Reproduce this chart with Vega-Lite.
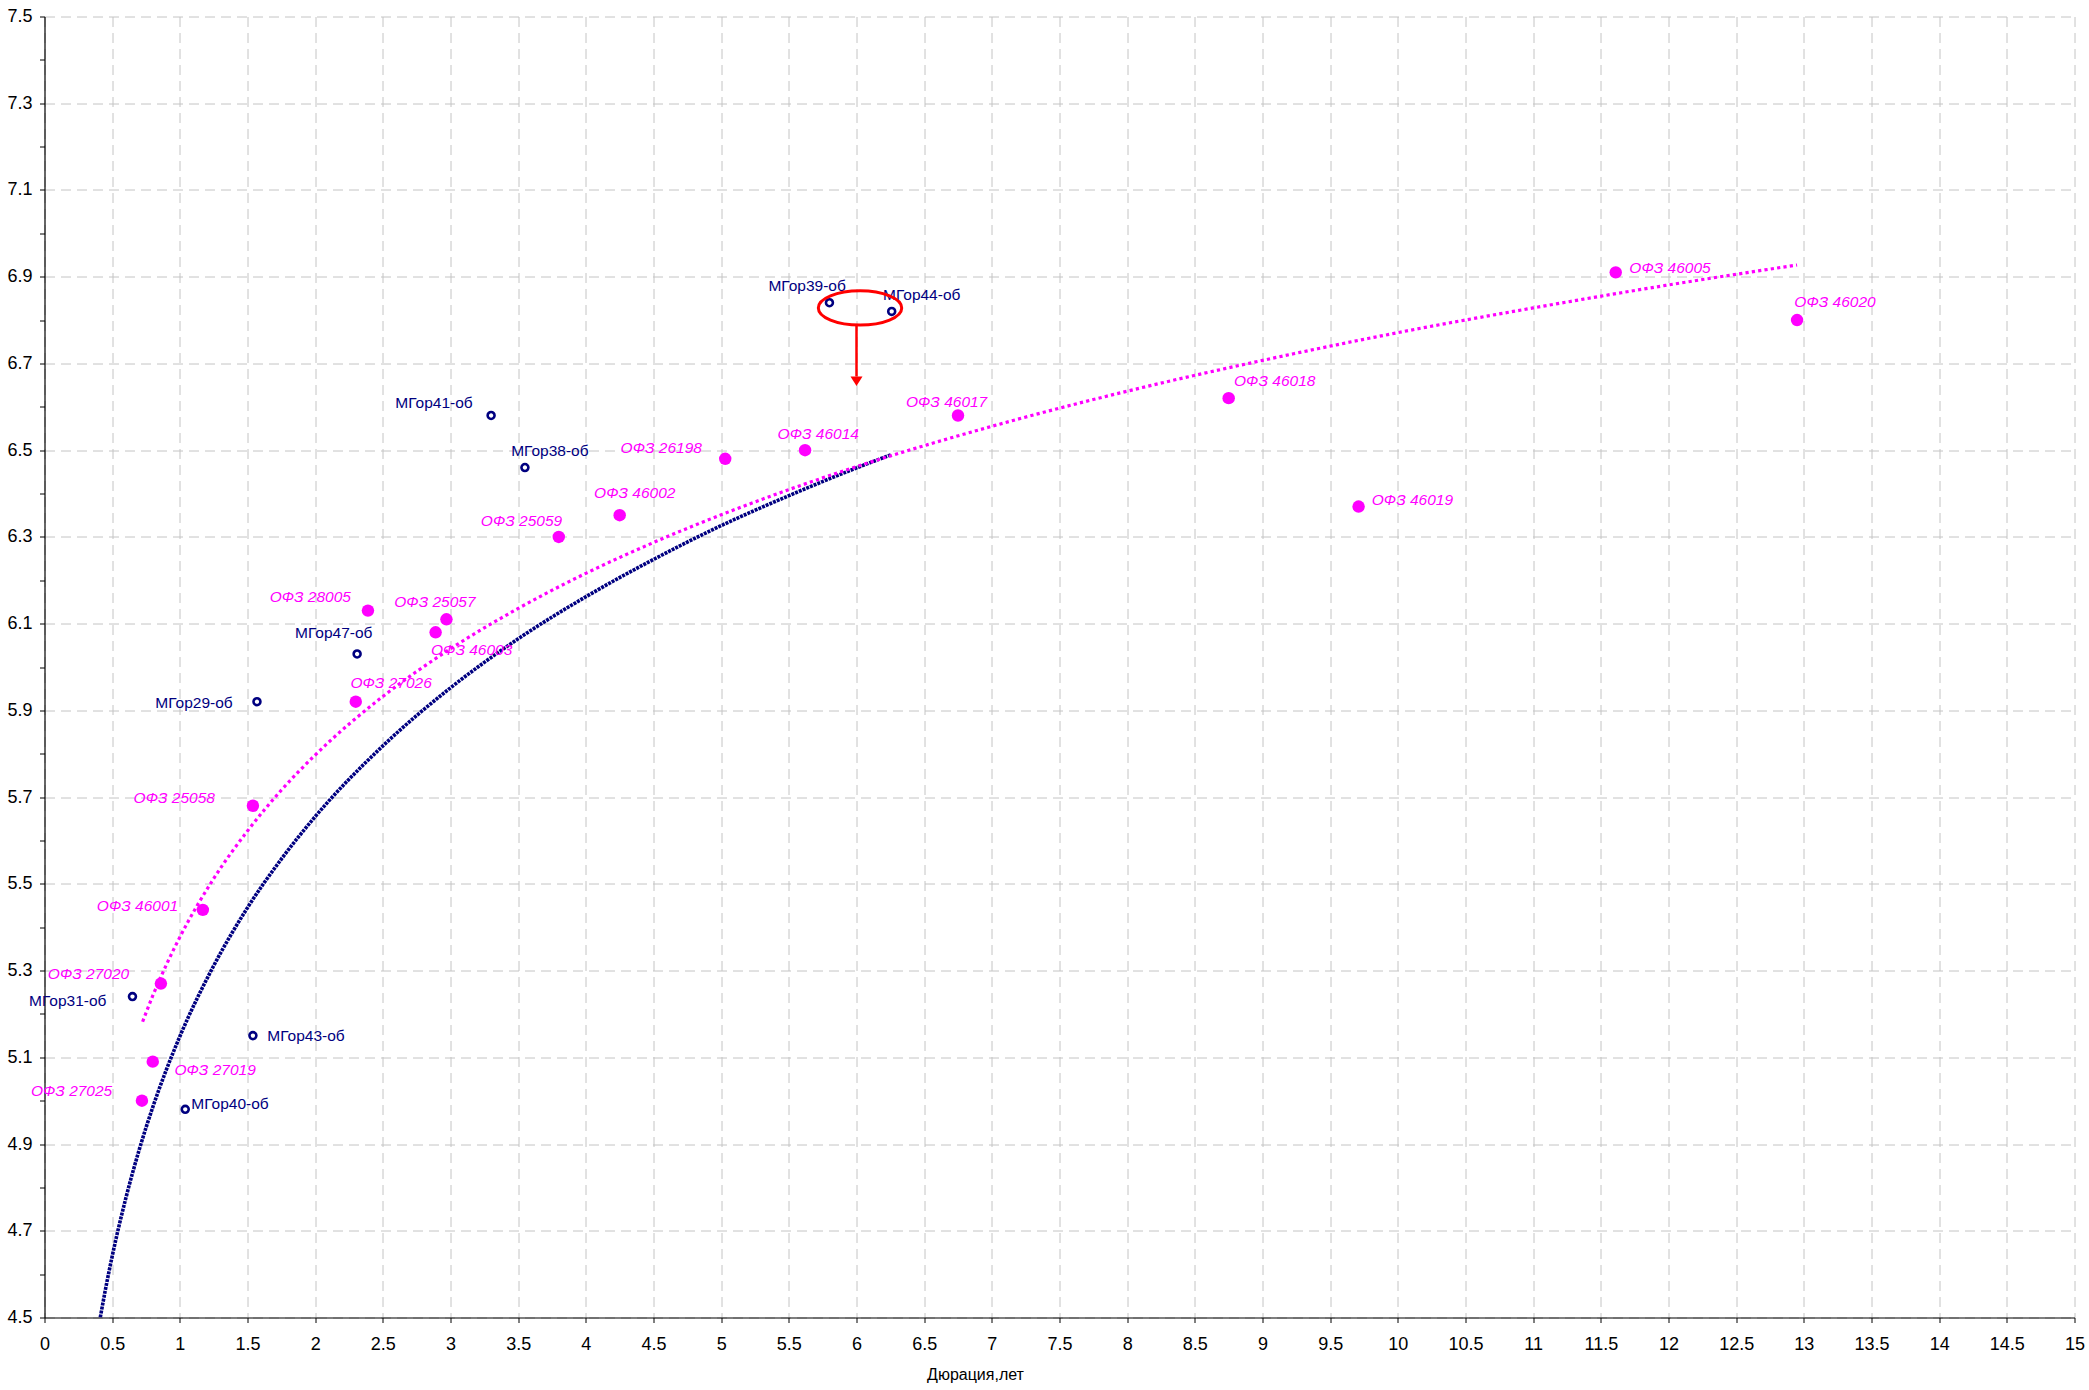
{
  "$schema": "https://vega.github.io/schema/vega-lite/v6.json",
  "width": 2030,
  "height": 1301,
  "autosize": {"type": "none"},
  "padding": {"left": 44.5, "top": 16.5, "right": 14.5, "bottom": 72.5},
  "background": "white",
  "config": {"view": {"stroke": null}, "font": "Liberation Sans"},
  "datasets": {
    "bonds": [
      {"name": "ОФЗ 46005", "type": "ОФЗ", "x": 11.61, "y": 6.91},
      {"name": "ОФЗ 46020", "type": "ОФЗ", "x": 12.95, "y": 6.80},
      {"name": "ОФЗ 46018", "type": "ОФЗ", "x": 8.75, "y": 6.62},
      {"name": "ОФЗ 46019", "type": "ОФЗ", "x": 9.71, "y": 6.37},
      {"name": "ОФЗ 46017", "type": "ОФЗ", "x": 6.75, "y": 6.58},
      {"name": "ОФЗ 46014", "type": "ОФЗ", "x": 5.62, "y": 6.50},
      {"name": "ОФЗ 26198", "type": "ОФЗ", "x": 5.03, "y": 6.48},
      {"name": "ОФЗ 46002", "type": "ОФЗ", "x": 4.25, "y": 6.35},
      {"name": "ОФЗ 25059", "type": "ОФЗ", "x": 3.80, "y": 6.30},
      {"name": "ОФЗ 28005", "type": "ОФЗ", "x": 2.39, "y": 6.13},
      {"name": "ОФЗ 25057", "type": "ОФЗ", "x": 2.97, "y": 6.11},
      {"name": "ОФЗ 46003", "type": "ОФЗ", "x": 2.89, "y": 6.08},
      {"name": "ОФЗ 27026", "type": "ОФЗ", "x": 2.30, "y": 5.92},
      {"name": "ОФЗ 25058", "type": "ОФЗ", "x": 1.54, "y": 5.68},
      {"name": "ОФЗ 46001", "type": "ОФЗ", "x": 1.17, "y": 5.44},
      {"name": "ОФЗ 27020", "type": "ОФЗ", "x": 0.86, "y": 5.27},
      {"name": "ОФЗ 27019", "type": "ОФЗ", "x": 0.80, "y": 5.09},
      {"name": "ОФЗ 27025", "type": "ОФЗ", "x": 0.72, "y": 5.00},
      {"name": "МГор39-об", "type": "МГор", "x": 5.80, "y": 6.84},
      {"name": "МГор44-об", "type": "МГор", "x": 6.26, "y": 6.82},
      {"name": "МГор41-об", "type": "МГор", "x": 3.30, "y": 6.58},
      {"name": "МГор38-об", "type": "МГор", "x": 3.55, "y": 6.46},
      {"name": "МГор47-об", "type": "МГор", "x": 2.31, "y": 6.03},
      {"name": "МГор29-об", "type": "МГор", "x": 1.57, "y": 5.92},
      {"name": "МГор31-об", "type": "МГор", "x": 0.65, "y": 5.24},
      {"name": "МГор43-об", "type": "МГор", "x": 1.54, "y": 5.15},
      {"name": "МГор40-об", "type": "МГор", "x": 1.04, "y": 4.98}
    ],
    "curves": [
      {"series": "МГор", "x": 0.412, "y": 4.50},
      {"series": "МГор", "x": 0.45, "y": 4.564},
      {"series": "МГор", "x": 0.5, "y": 4.641},
      {"series": "МГор", "x": 0.6, "y": 4.774},
      {"series": "МГор", "x": 0.7, "y": 4.887},
      {"series": "МГор", "x": 0.8, "y": 4.985},
      {"series": "МГор", "x": 0.9, "y": 5.071},
      {"series": "МГор", "x": 1.0, "y": 5.148},
      {"series": "МГор", "x": 1.25, "y": 5.311},
      {"series": "МГор", "x": 1.5, "y": 5.445},
      {"series": "МГор", "x": 1.75, "y": 5.557},
      {"series": "МГор", "x": 2.0, "y": 5.655},
      {"series": "МГор", "x": 2.5, "y": 5.818},
      {"series": "МГор", "x": 3.0, "y": 5.952},
      {"series": "МГор", "x": 3.5, "y": 6.065},
      {"series": "МГор", "x": 4.0, "y": 6.162},
      {"series": "МГор", "x": 4.5, "y": 6.248},
      {"series": "МГор", "x": 5.0, "y": 6.326},
      {"series": "МГор", "x": 5.5, "y": 6.395},
      {"series": "МГор", "x": 6.0, "y": 6.459},
      {"series": "МГор", "x": 6.26, "y": 6.490},
      {"series": "ОФЗ", "x": 0.725, "y": 5.182},
      {"series": "ОФЗ", "x": 0.8, "y": 5.242},
      {"series": "ОФЗ", "x": 0.9, "y": 5.313},
      {"series": "ОФЗ", "x": 1.0, "y": 5.377},
      {"series": "ОФЗ", "x": 1.25, "y": 5.512},
      {"series": "ОФЗ", "x": 1.5, "y": 5.622},
      {"series": "ОФЗ", "x": 1.75, "y": 5.716},
      {"series": "ОФЗ", "x": 2.0, "y": 5.797},
      {"series": "ОФЗ", "x": 2.5, "y": 5.932},
      {"series": "ОФЗ", "x": 3.0, "y": 6.042},
      {"series": "ОФЗ", "x": 3.5, "y": 6.135},
      {"series": "ОФЗ", "x": 4.0, "y": 6.216},
      {"series": "ОФЗ", "x": 4.5, "y": 6.287},
      {"series": "ОФЗ", "x": 5.0, "y": 6.351},
      {"series": "ОФЗ", "x": 5.5, "y": 6.409},
      {"series": "ОФЗ", "x": 6.0, "y": 6.462},
      {"series": "ОФЗ", "x": 7.0, "y": 6.555},
      {"series": "ОФЗ", "x": 8.0, "y": 6.636},
      {"series": "ОФЗ", "x": 9.0, "y": 6.707},
      {"series": "ОФЗ", "x": 10.0, "y": 6.771},
      {"series": "ОФЗ", "x": 11.0, "y": 6.828},
      {"series": "ОФЗ", "x": 12.0, "y": 6.881},
      {"series": "ОФЗ", "x": 12.95, "y": 6.927}
    ],
    "ellipse": [{"x": 6.026, "y": 6.828}],
    "arrow": [{"x": 6.0, "y": 6.789, "y2": 6.67}],
    "arrowhead": [{"x": 6.0, "y": 6.659}]
  },
  "encoding": {
    "x": {
      "field": "x", "type": "quantitative",
      "scale": {"domain": [0, 15], "nice": false, "zero": false},
      "axis": {
        "title": "Дюрация,лет",
        "values": [0,0.5,1,1.5,2,2.5,3,3.5,4,4.5,5,5.5,6,6.5,7,7.5,8,8.5,9,9.5,10,10.5,11,11.5,12,12.5,13,13.5,14,14.5,15],
        "format": "~g",
        "labelFont": "'Liberation Sans Narrow', 'Liberation Sans', sans-serif",
        "labelFontSize": 18, "labelColor": "black", "labelPadding": 12.5,
        "labelOverlap": false, "labelFlush": false, "labelBound": false,
        "tickColor": "black", "tickSize": 5, "domainColor": "black", "domainWidth": 1.2,
        "grid": true, "gridColor": "#c4c4c4", "gridDash": [10, 6], "gridWidth": 1,
        "titleFont": "'Liberation Sans Narrow', 'Liberation Sans', sans-serif",
        "titleFontSize": 16, "titleFontWeight": "normal", "titleColor": "black",
        "titleX": 930.5, "titleY": 57, "titleAlign": "center", "titleBaseline": "middle", "titleAnchor": null
      }
    },
    "y": {
      "field": "y", "type": "quantitative",
      "scale": {"domain": [4.5, 7.5], "nice": false, "zero": false},
      "axis": {
        "title": null,
        "values": [4.5,4.6,4.7,4.8,4.9,5.0,5.1,5.2,5.3,5.4,5.5,5.6,5.7,5.8,5.9,6.0,6.1,6.2,6.3,6.4,6.5,6.6,6.7,6.8,6.9,7.0,7.1,7.2,7.3,7.4,7.5],
        "labelExpr": "round(datum.value*10)%2==1 ? format(datum.value, '.1f') : ''",
        "labelFont": "'Liberation Sans Narrow', 'Liberation Sans', sans-serif",
        "labelFontSize": 18, "labelColor": "black", "labelPadding": 7.5,
        "labelOverlap": false, "labelFlush": false, "labelBound": false,
        "tickColor": "black", "tickSize": 5, "domainColor": "black", "domainWidth": 1.2,
        "grid": true, "gridColor": "#c4c4c4", "gridDash": [10, 6], "gridWidth": 1,
        "gridOpacity": {"condition": {"test": "round(datum.value*10)%2==1", "value": 1}, "value": 0}
      }
    }
  },
  "layer": [
    {"data": {"name": "curves"}, "transform": [{"filter": "datum.series=='МГор'"}],
     "mark": {"type": "line", "color": "#000080", "strokeWidth": 3.6, "strokeDash": [3, 1], "interpolate": "monotone", "clip": true}},
    {"data": {"name": "curves"}, "transform": [{"filter": "datum.series=='ОФЗ'"}],
     "mark": {"type": "line", "color": "#ff00ff", "strokeWidth": 3.2, "strokeDash": [3.2, 3.2], "interpolate": "monotone", "clip": true}},
    {"data": {"name": "bonds"}, "transform": [{"filter": "datum.type=='ОФЗ'"}],
     "mark": {"type": "circle", "color": "#ff00ff", "size": 155, "opacity": 1}},
    {"data": {"name": "bonds"}, "transform": [{"filter": "datum.type=='МГор'"}],
     "mark": {"type": "point", "shape": "circle", "filled": false, "color": "#000080", "size": 48, "strokeWidth": 2.6, "opacity": 1}},

    {"data": {"name": "bonds"}, "transform": [{"filter": "datum.name=='ОФЗ 46005'"}], "mark": {"type": "text", "align": "left", "baseline": "middle", "dx": 13.6, "dy": -4.4, "fontSize": 15.5, "fontStyle": "italic", "color": "#ff00ff"}, "encoding": {"text": {"field": "name"}}},
    {"data": {"name": "bonds"}, "transform": [{"filter": "datum.name=='ОФЗ 46020'"}], "mark": {"type": "text", "align": "left", "baseline": "middle", "dx": -2.7, "dy": -17.6, "fontSize": 15.5, "fontStyle": "italic", "color": "#ff00ff"}, "encoding": {"text": {"field": "name"}}},
    {"data": {"name": "bonds"}, "transform": [{"filter": "datum.name=='ОФЗ 46018'"}], "mark": {"type": "text", "align": "left", "baseline": "middle", "dx": 5.4, "dy": -16.8, "fontSize": 15.5, "fontStyle": "italic", "color": "#ff00ff"}, "encoding": {"text": {"field": "name"}}},
    {"data": {"name": "bonds"}, "transform": [{"filter": "datum.name=='ОФЗ 46019'"}], "mark": {"type": "text", "align": "left", "baseline": "middle", "dx": 13.2, "dy": -6.8, "fontSize": 15.5, "fontStyle": "italic", "color": "#ff00ff"}, "encoding": {"text": {"field": "name"}}},
    {"data": {"name": "bonds"}, "transform": [{"filter": "datum.name=='ОФЗ 46017'"}], "mark": {"type": "text", "align": "center", "baseline": "middle", "dx": -11.4, "dy": -13.2, "fontSize": 15.5, "fontStyle": "italic", "color": "#ff00ff"}, "encoding": {"text": {"field": "name"}}},
    {"data": {"name": "bonds"}, "transform": [{"filter": "datum.name=='ОФЗ 46014'"}], "mark": {"type": "text", "align": "center", "baseline": "middle", "dx": 13.2, "dy": -16.1, "fontSize": 15.5, "fontStyle": "italic", "color": "#ff00ff"}, "encoding": {"text": {"field": "name"}}},
    {"data": {"name": "bonds"}, "transform": [{"filter": "datum.name=='ОФЗ 26198'"}], "mark": {"type": "text", "align": "right", "baseline": "middle", "dx": -23.3, "dy": -11.1, "fontSize": 15.5, "fontStyle": "italic", "color": "#ff00ff"}, "encoding": {"text": {"field": "name"}}},
    {"data": {"name": "bonds"}, "transform": [{"filter": "datum.name=='ОФЗ 46002'"}], "mark": {"type": "text", "align": "center", "baseline": "middle", "dx": 15.1, "dy": -22.5, "fontSize": 15.5, "fontStyle": "italic", "color": "#ff00ff"}, "encoding": {"text": {"field": "name"}}},
    {"data": {"name": "bonds"}, "transform": [{"filter": "datum.name=='ОФЗ 25059'"}], "mark": {"type": "text", "align": "right", "baseline": "middle", "dx": 3.4, "dy": -16.1, "fontSize": 15.5, "fontStyle": "italic", "color": "#ff00ff"}, "encoding": {"text": {"field": "name"}}},
    {"data": {"name": "bonds"}, "transform": [{"filter": "datum.name=='ОФЗ 28005'"}], "mark": {"type": "text", "align": "right", "baseline": "middle", "dx": -17, "dy": -13.3, "fontSize": 15.5, "fontStyle": "italic", "color": "#ff00ff"}, "encoding": {"text": {"field": "name"}}},
    {"data": {"name": "bonds"}, "transform": [{"filter": "datum.name=='ОФЗ 25057'"}], "mark": {"type": "text", "align": "center", "baseline": "middle", "dx": -11.5, "dy": -17.6, "fontSize": 15.5, "fontStyle": "italic", "color": "#ff00ff"}, "encoding": {"text": {"field": "name"}}},
    {"data": {"name": "bonds"}, "transform": [{"filter": "datum.name=='ОФЗ 46003'"}], "mark": {"type": "text", "align": "left", "baseline": "middle", "dx": -4.6, "dy": 18, "fontSize": 15.5, "fontStyle": "italic", "color": "#ff00ff"}, "encoding": {"text": {"field": "name"}}},
    {"data": {"name": "bonds"}, "transform": [{"filter": "datum.name=='ОФЗ 27026'"}], "mark": {"type": "text", "align": "left", "baseline": "middle", "dx": -5.3, "dy": -18.3, "fontSize": 15.5, "fontStyle": "italic", "color": "#ff00ff"}, "encoding": {"text": {"field": "name"}}},
    {"data": {"name": "bonds"}, "transform": [{"filter": "datum.name=='ОФЗ 25058'"}], "mark": {"type": "text", "align": "right", "baseline": "middle", "dx": -38, "dy": -7.7, "fontSize": 15.5, "fontStyle": "italic", "color": "#ff00ff"}, "encoding": {"text": {"field": "name"}}},
    {"data": {"name": "bonds"}, "transform": [{"filter": "datum.name=='ОФЗ 46001'"}], "mark": {"type": "text", "align": "right", "baseline": "middle", "dx": -24.7, "dy": -4.3, "fontSize": 15.5, "fontStyle": "italic", "color": "#ff00ff"}, "encoding": {"text": {"field": "name"}}},
    {"data": {"name": "bonds"}, "transform": [{"filter": "datum.name=='ОФЗ 27020'"}], "mark": {"type": "text", "align": "right", "baseline": "middle", "dx": -31.7, "dy": -10, "fontSize": 15.5, "fontStyle": "italic", "color": "#ff00ff"}, "encoding": {"text": {"field": "name"}}},
    {"data": {"name": "bonds"}, "transform": [{"filter": "datum.name=='ОФЗ 27019'"}], "mark": {"type": "text", "align": "left", "baseline": "middle", "dx": 21.7, "dy": 8.7, "fontSize": 15.5, "fontStyle": "italic", "color": "#ff00ff"}, "encoding": {"text": {"field": "name"}}},
    {"data": {"name": "bonds"}, "transform": [{"filter": "datum.name=='ОФЗ 27025'"}], "mark": {"type": "text", "align": "right", "baseline": "middle", "dx": -29.7, "dy": -10, "fontSize": 15.5, "fontStyle": "italic", "color": "#ff00ff"}, "encoding": {"text": {"field": "name"}}},

    {"data": {"name": "bonds"}, "transform": [{"filter": "datum.name=='МГор39-об'"}], "mark": {"type": "text", "align": "right", "baseline": "middle", "dx": 16.4, "dy": -16.6, "fontSize": 15.5, "color": "#000080"}, "encoding": {"text": {"field": "name"}}},
    {"data": {"name": "bonds"}, "transform": [{"filter": "datum.name=='МГор44-об'"}], "mark": {"type": "text", "align": "left", "baseline": "middle", "dx": -8.7, "dy": -16.7, "fontSize": 15.5, "color": "#000080"}, "encoding": {"text": {"field": "name"}}},
    {"data": {"name": "bonds"}, "transform": [{"filter": "datum.name=='МГор41-об'"}], "mark": {"type": "text", "align": "right", "baseline": "middle", "dx": -18.4, "dy": -12.2, "fontSize": 15.5, "color": "#000080"}, "encoding": {"text": {"field": "name"}}},
    {"data": {"name": "bonds"}, "transform": [{"filter": "datum.name=='МГор38-об'"}], "mark": {"type": "text", "align": "left", "baseline": "middle", "dx": -13.8, "dy": -16.1, "fontSize": 15.5, "color": "#000080"}, "encoding": {"text": {"field": "name"}}},
    {"data": {"name": "bonds"}, "transform": [{"filter": "datum.name=='МГор47-об'"}], "mark": {"type": "text", "align": "right", "baseline": "middle", "dx": 15.3, "dy": -21.3, "fontSize": 15.5, "color": "#000080"}, "encoding": {"text": {"field": "name"}}},
    {"data": {"name": "bonds"}, "transform": [{"filter": "datum.name=='МГор29-об'"}], "mark": {"type": "text", "align": "right", "baseline": "middle", "dx": -24.3, "dy": 1.7, "fontSize": 15.5, "color": "#000080"}, "encoding": {"text": {"field": "name"}}},
    {"data": {"name": "bonds"}, "transform": [{"filter": "datum.name=='МГор31-об'"}], "mark": {"type": "text", "align": "right", "baseline": "middle", "dx": -26, "dy": 4, "fontSize": 15.5, "color": "#000080"}, "encoding": {"text": {"field": "name"}}},
    {"data": {"name": "bonds"}, "transform": [{"filter": "datum.name=='МГор43-об'"}], "mark": {"type": "text", "align": "left", "baseline": "middle", "dx": 14.4, "dy": 0, "fontSize": 15.5, "color": "#000080"}, "encoding": {"text": {"field": "name"}}},
    {"data": {"name": "bonds"}, "transform": [{"filter": "datum.name=='МГор40-об'"}], "mark": {"type": "text", "align": "left", "baseline": "middle", "dx": 6, "dy": -5, "fontSize": 15.5, "color": "#000080"}, "encoding": {"text": {"field": "name"}}},

    {"data": {"name": "ellipse"},
     "mark": {"type": "point", "shape": "M -1 0 C -1 -0.2265 -0.5523 -0.41 0 -0.41 C 0.5523 -0.41 1 -0.2265 1 0 C 1 0.2265 0.5523 0.41 0 0.41 C -0.5523 0.41 -1 0.2265 -1 0 Z", "size": 6956, "filled": false, "stroke": "#ff0000", "strokeWidth": 3, "opacity": 1}},
    {"data": {"name": "arrow"},
     "mark": {"type": "rule", "color": "#ff0000", "strokeWidth": 2.5},
     "encoding": {"y2": {"field": "y2"}}},
    {"data": {"name": "arrowhead"},
     "mark": {"type": "point", "shape": "M -1 -0.8 L 1 -0.8 L 0 0.8 Z", "size": 144, "filled": true, "color": "#ff0000", "opacity": 1}}
  ]
}
